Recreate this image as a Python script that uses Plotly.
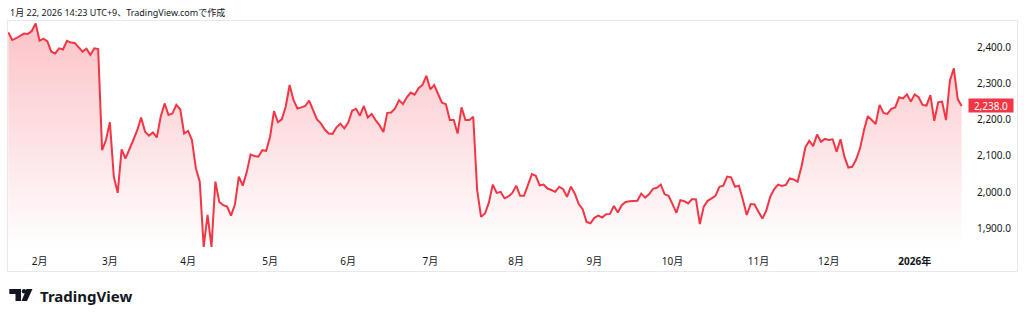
import pandas as pd
import plotly.graph_objects as go

# ---- data -------------------------------------------------------------
start_date = "2025-01-22"
end_date = "2026-01-22"
jp_holidays = [
    "2025-02-11", "2025-02-24", "2025-03-20", "2025-04-29", "2025-05-05",
    "2025-05-06", "2025-07-21", "2025-08-11", "2025-09-15", "2025-09-23",
    "2025-10-13", "2025-11-03", "2025-11-24", "2025-12-31", "2026-01-01",
    "2026-01-02", "2026-01-12",
]

close = [
    2441, 2420, 2425, 2431, 2438, 2437, 2445, 2466, 2418, 2424,
    2416, 2388, 2383, 2397, 2394, 2418, 2413, 2412, 2400, 2388,
    2396, 2379, 2397, 2395, 2116,
    2144, 2193, 2043, 1998, 2118, 2093, 2121, 2144, 2171, 2206,
    2167, 2156, 2165, 2151, 2208, 2245, 2213, 2217, 2241, 2229,
    2162, 2169, 2144, 2066, 2029,
    1849, 1937, 1849, 2029, 1973, 1964, 1960, 1935, 1966, 2043,
    2018, 2054, 2104, 2100, 2098, 2116, 2114, 2153, 2224, 2193,
    2201, 2236, 2296, 2254, 2231,
    2234, 2238, 2253, 2227, 2201, 2190, 2173, 2162, 2161, 2179,
    2189, 2176, 2192, 2225, 2230, 2211, 2238, 2206, 2216, 2199,
    2185, 2166, 2219, 2220, 2231,
    2254, 2243, 2262, 2275, 2269, 2287, 2296, 2321, 2284, 2296,
    2271, 2247, 2243, 2199, 2199, 2162, 2234, 2199, 2199, 2208,
    2006, 1932, 1941, 1971, 2021,
    1998, 2001, 1983, 1988, 1998, 2018, 1990, 1990, 2019, 2050,
    2045, 2019, 2021, 2010, 2006, 2001, 2015, 2008, 1987, 2015,
    1996, 1967, 1953, 1918, 1914,
    1929, 1935, 1930, 1939, 1940, 1962, 1944, 1964, 1973, 1975,
    1976, 1976, 1996, 1985, 1994, 2009, 2012, 2021, 1994, 1990,
    1967, 1943, 1978, 1975, 1969,
    1981, 1980, 1912, 1960, 1976, 1983, 1990, 2015, 2018, 2043,
    2041, 2015, 2018, 1980, 1937, 1967, 1966, 1946, 1927, 1949,
    1987, 2008, 2021, 2017, 2020,
    2038, 2035, 2029, 2070, 2124, 2142, 2127, 2159, 2139, 2147,
    2144, 2146, 2112, 2146, 2098, 2068, 2070, 2090, 2121, 2171,
    2210, 2199, 2188, 2241, 2219,
    2216, 2230, 2234, 2262, 2259, 2270, 2250, 2270, 2262, 2241,
    2239, 2268, 2197, 2248, 2250, 2199, 2308, 2342, 2257, 2238,
]

month_labels = ["2月", "3月", "4月", "5月", "6月", "7月", "8月", "9月",
                "10月", "11月", "12月", "<b>2026年</b>"]
y_ticks = [1900, 2000, 2100, 2200, 2300, 2400]
last_price = 2238.0
title_text = "1月 22, 2026 14:23 UTC+9、TradingView.comで作成"
brand_text = "TradingView"

# ---- trading calendar -------------------------------------------------
days = pd.bdate_range(start_date, end_date)
days = days[~days.isin(pd.to_datetime(jp_holidays))]
dates = [d.strftime("%Y-%m-%d") for d in days]
assert len(dates) == len(close), (len(dates), len(close))

month_first = []
prev = None
for d in days:
    key = (d.year, d.month)
    if prev is not None and key != prev:
        month_first.append(d.strftime("%Y-%m-%d"))
    prev = key

RED = "#F23645"
TXT = "#131722"
FONT = "Noto Sans, Noto Sans CJK JP, sans-serif"

fig = go.Figure()
fig.add_trace(go.Scatter(
    x=dates, y=close, mode="lines",
    line=dict(color=RED, width=2),
    fill="tozeroy",
    fillgradient=dict(type="vertical",
                      colorscale=[[0, "rgba(242,54,69,0.0)"],
                                  [1, "rgba(242,54,69,0.30)"]],
                      start=1840, stop=2470),
    hoverinfo="skip",
))

L, R, T, B = 8, 58, 21, 69
fig.update_layout(
    width=1024, height=319,
    margin=dict(l=L, r=R, t=T, b=B),
    paper_bgcolor="white", plot_bgcolor="white",
    showlegend=False,
    font=dict(family=FONT, color=TXT, size=10),
    xaxis=dict(type="category", range=[-0.08, 245.12],
               tickmode="array", tickvals=month_first, ticktext=month_labels,
               showgrid=False, zeroline=False, showline=False,
               ticks="outside", ticklen=2, tickcolor="rgba(0,0,0,0)",
               tickfont=dict(size=10, color=TXT)),
    yaxis=dict(side="right", range=[1840.3, 2472.6],
               tickmode="array", tickvals=y_ticks, tickformat=",.1f",
               showgrid=False, zeroline=False, showline=False,
               ticks="outside", ticklen=8, tickcolor="rgba(0,0,0,0)",
               tickfont=dict(size=10, color=TXT)),
)

pw = 1024 - L - R
ph = 319 - T - B
def px(x):
    return (x - L) / pw
def py(y):
    return (319 - B - y) / ph

# pane border
fig.add_shape(type="rect", xref="paper", yref="paper",
              x0=px(7.5), x1=px(1017.5), y0=py(271.5), y1=py(20.5),
              line=dict(color="#e6e8ee", width=1), fillcolor="rgba(0,0,0,0)",
              layer="below")

# last price label
fig.add_annotation(xref="paper", yref="y", x=1, y=last_price,
                   xanchor="left", yanchor="middle", xshift=2,
                   text=f"{last_price:,.1f}", showarrow=False,
                   bgcolor=RED, font=dict(color="white", size=10, family=FONT),
                   width=42, height=11, borderpad=1)

# header text
fig.add_annotation(xref="paper", yref="paper", x=px(8), y=py(12),
                   xanchor="left", yanchor="middle", showarrow=False,
                   text=title_text, font=dict(size=9, color=TXT, family=FONT))

# TradingView brand
fig.add_shape(type="path", xref="paper", yref="paper",
              path=(f"M {px(9.3)} {py(289)} L {px(21)} {py(289)} L {px(21)} {py(301)} "
                    f"L {px(15.5)} {py(301)} L {px(15.5)} {py(294)} L {px(9.3)} {py(294)} Z"),
              fillcolor=TXT, line=dict(width=0))
fig.add_shape(type="circle", xref="paper", yref="paper",
              x0=px(21.8), x1=px(26.2), y0=py(293.4), y1=py(289),
              fillcolor=TXT, line=dict(width=0))
fig.add_shape(type="path", xref="paper", yref="paper",
              path=(f"M {px(26.5)} {py(289)} L {px(32.5)} {py(289)} L {px(27)} {py(301)} "
                    f"L {px(21.5)} {py(301)} Z"),
              fillcolor=TXT, line=dict(width=0))
fig.add_annotation(xref="paper", yref="paper", x=px(38), y=py(295.5),
                   xanchor="left", yanchor="middle", showarrow=False,
                   text=f"<b>{brand_text}</b>",
                   font=dict(size=15, color=TXT, family=FONT))

fig.write_html("out.html")
